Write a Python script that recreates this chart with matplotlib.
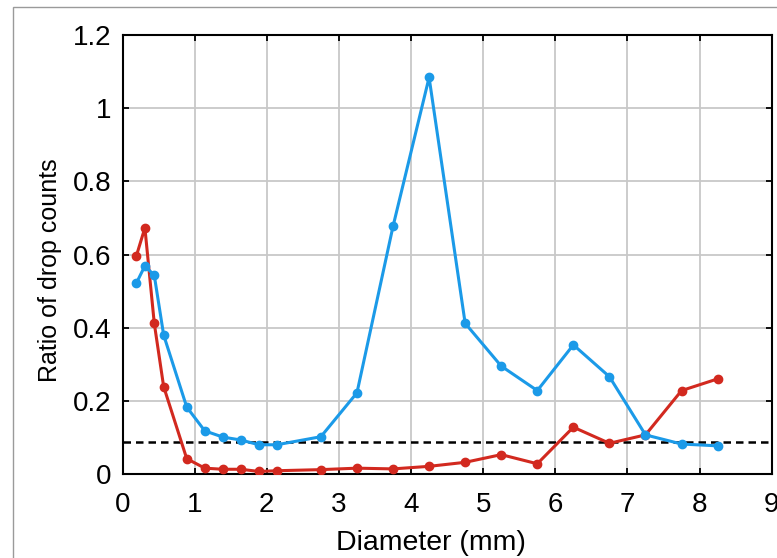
import matplotlib
matplotlib.use('Agg')
import matplotlib.pyplot as plt
from matplotlib.patches import Rectangle

plt.rcParams['font.family'] = ['Liberation Sans', 'DejaVu Sans']

# diameter bins (mm)
diameter = [0.19, 0.31, 0.44, 0.57, 0.89, 1.14, 1.39, 1.64, 1.89, 2.14, 2.75,
            3.25, 3.75, 4.25, 4.75, 5.25, 5.75, 6.25, 6.75, 7.25, 7.75, 8.25]
ratio_blue = [0.521, 0.569, 0.543, 0.380, 0.183, 0.118, 0.101, 0.093, 0.080, 0.080, 0.102,
              0.222, 0.677, 1.084, 0.412, 0.295, 0.228, 0.353, 0.266, 0.107, 0.082, 0.077]
ratio_red = [0.595, 0.673, 0.412, 0.239, 0.042, 0.016, 0.013, 0.013, 0.007, 0.009, 0.012,
             0.016, 0.014, 0.021, 0.032, 0.053, 0.028, 0.128, 0.084, 0.107, 0.228, 0.260]
threshold = 0.087

fig = plt.figure(figsize=(7.77, 5.58), dpi=100)
ax = fig.add_axes([0.1577, 0.1505, 0.8355, 0.7868])

# grey frame of the screenshot
fig.patches.append(Rectangle((12.5 / 777, -0.2), 1.2, (558 - 6.5) / 558 + 0.2,
                             transform=fig.transFigure, fill=False,
                             edgecolor='#9a9a9a', lw=1.0))

ax.axhline(threshold, color='black', ls=(0, (3, 2)), lw=1.8, zorder=2)
ax.plot(diameter, ratio_red, color='#d2291f', lw=2.2, marker='o', ms=6, zorder=3)
ax.plot(diameter, ratio_blue, color='#1b9ae8', lw=2.2, marker='o', ms=6, zorder=4)

ax.set_xlim(0, 9)
ax.set_ylim(0, 1.2)
ax.set_xticks(range(0, 10))
ax.set_yticks([0, 0.2, 0.4, 0.6, 0.8, 1.0, 1.2])
ax.set_yticklabels(['0', '0.2', '0.4', '0.6', '0.8', '1', '1.2'])
ax.grid(True, color='#c8c8c8', lw=1.3)
ax.set_axisbelow(True)

ax.tick_params(direction='in', length=4.5, width=1.3, top=True, right=True,
               labelsize=20, colors='black')
ax.tick_params(axis='x', pad=13)
ax.tick_params(axis='y', pad=8)
for s in ax.spines.values():
    s.set_linewidth(1.5)

ax.set_xlabel('Diameter (mm)', fontsize=20.5)
ax.set_ylabel('Ratio of drop counts', fontsize=18)
ax.xaxis.set_label_coords(0.475, -0.128)
ax.yaxis.set_label_coords(-0.094, 0.465)

fig.savefig('out.png', dpi=100)
